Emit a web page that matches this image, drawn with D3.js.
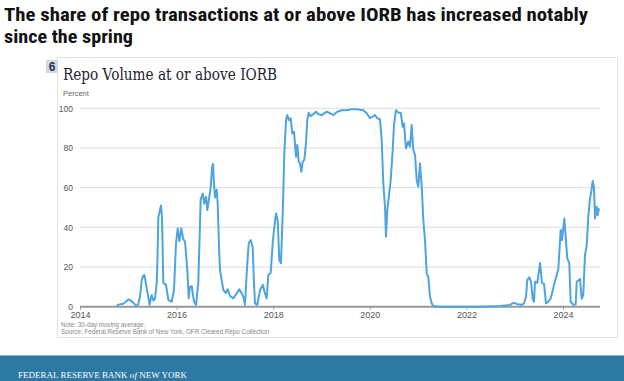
<!DOCTYPE html>
<html><head><meta charset="utf-8">
<script src="https://cdn.jsdelivr.net/npm/d3@7"></script>
<style>
html,body{margin:0;padding:0;background:#fff;}
svg{display:block;}
</style></head>
<body>
<svg id="chart" width="624" height="381"></svg>
<script>
// ---- data ----
const pageTitle = ["The share of repo transactions at or above IORB has increased notably", "since the spring"];
const chartTitle = "Repo Volume at or above IORB";
const chartNumber = "6";
const yUnit = "Percent";
const noteText = "Note: 30-day moving average.";
const sourceText = "Source: Federal Reserve Bank of New York, OFR Cleared Repo Collection";
const xTicks = [2014, 2016, 2018, 2020, 2022, 2024];
const yTicks = [0, 20, 40, 60, 80, 100];
const years = [2014.760,2014.787,2014.896,2014.952,2015.000,2015.056,2015.104,2015.159,2015.201,2015.242,2015.277,2015.304,2015.331,2015.356,2015.381,2015.414,2015.439,2015.484,2015.522,2015.553,2015.588,2015.605,2015.621,2015.656,2015.677,2015.698,2015.725,2015.781,2015.828,2015.899,2015.946,2015.988,2016.023,2016.056,2016.097,2016.139,2016.174,2016.222,2016.251,2016.277,2016.313,2016.360,2016.402,2016.449,2016.499,2016.540,2016.573,2016.609,2016.636,2016.677,2016.706,2016.733,2016.754,2016.774,2016.795,2016.830,2016.851,2016.878,2016.899,2016.967,2017.023,2017.058,2017.106,2017.174,2017.244,2017.298,2017.348,2017.381,2017.416,2017.451,2017.493,2017.534,2017.576,2017.602,2017.623,2017.671,2017.727,2017.783,2017.830,2017.865,2017.899,2017.948,2017.990,2018.017,2018.058,2018.093,2018.126,2018.161,2018.197,2018.230,2018.265,2018.292,2018.327,2018.362,2018.395,2018.431,2018.472,2018.499,2018.528,2018.555,2018.582,2018.611,2018.644,2018.679,2018.706,2018.735,2018.776,2018.830,2018.886,2018.934,2019.004,2019.108,2019.176,2019.244,2019.327,2019.418,2019.522,2019.625,2019.729,2019.865,2019.936,2020.004,2020.060,2020.108,2020.155,2020.211,2020.246,2020.280,2020.315,2020.335,2020.362,2020.391,2020.433,2020.474,2020.501,2020.542,2020.590,2020.640,2020.681,2020.708,2020.749,2020.797,2020.832,2020.867,2020.901,2020.936,2020.971,2021.004,2021.039,2021.075,2021.108,2021.143,2021.178,2021.211,2021.246,2021.282,2021.315,2021.453,2021.867,2022.282,2022.696,2022.903,2022.971,2023.041,2023.145,2023.193,2023.234,2023.261,2023.302,2023.337,2023.373,2023.400,2023.420,2023.468,2023.524,2023.565,2023.607,2023.648,2023.696,2023.745,2023.787,2023.814,2023.870,2023.903,2023.952,2023.979,2024.027,2024.062,2024.089,2024.130,2024.159,2024.213,2024.263,2024.284,2024.352,2024.387,2024.420,2024.455,2024.491,2024.524,2024.559,2024.586,2024.615,2024.642,2024.663,2024.698,2024.718,2024.745];
const share = [0,1,1.5,2.5,3.7,3,2,0.4,1,5,13,15.5,16,13,9,5,1,5.9,3,4.2,12,25,45,48.7,51,45,12,11,3.4,2.5,8.4,32,39.5,33,39.5,34,32.8,18.5,4.2,10,10.4,2.5,0.9,12,54,57,52,55.4,48.7,55.4,60,70,72,62,55,59,52,30,18.5,8.4,6.9,8.8,5.4,4.2,6.7,8.8,6.7,5,0.9,16.8,32,33.6,30,12,1.7,0.9,8.4,11,6.7,4.2,16,17,32,38.7,47,43.7,23.5,21.9,47,77,94,96.6,94,95,87.4,88.2,75.6,81.5,73,72.3,68,73,74,82.4,94,97.8,96,97,98.3,97,96.6,98.3,97.5,96.6,98.3,99,99,99.5,99.5,99,97.5,95,95.8,96.6,95,94.5,84,62,50.4,35.3,48.7,54.6,63.9,79,91.6,99,97.8,97.8,90.7,92.4,79.8,83.2,80.6,91.6,79,76.5,63.9,60.5,72.3,60.5,43.7,33.6,16.8,15.1,5,1.7,0.3,0,0,0,0.3,0.9,2,1.4,0.9,1.7,5,13.5,14.8,12.6,4,2.5,12.6,12,22,12,11.5,1.7,2.5,4.2,8,11,16,19,38.7,33.6,44.5,33,24.4,22,2.5,1,1.2,12.6,14,4,5.9,26,31,45.4,54.6,58,63.4,59.7,44.5,50.4,46.2,49.6];

// ---- drawing ----
const svg = d3.select("#chart");
const plot = {left: 80, right: 600, top: 108.3, bottom: 306.7};
const x = d3.scaleLinear().domain([2014, 2024.766]).range([plot.left, plot.right]);
const y = d3.scaleLinear().domain([0, 100]).range([plot.bottom, plot.top]);

// page title
const titleFont = "'Roboto Condensed','Liberation Sans Narrow','DejaVu Sans Condensed',Roboto,sans-serif";
svg.append("text").attr("x", 4).attr("y", 21)
  .attr("font-family", titleFont).attr("font-weight", "bold").attr("font-size", 18).attr("fill", "#111")
  .attr("textLength", 584).attr("lengthAdjust", "spacingAndGlyphs").text(pageTitle[0]);
svg.append("text").attr("x", 4).attr("y", 42.5)
  .attr("font-family", titleFont).attr("font-weight", "bold").attr("font-size", 18).attr("fill", "#111")
  .attr("textLength", 129).attr("lengthAdjust", "spacingAndGlyphs").text(pageTitle[1]);

// panel
svg.append("rect").attr("x", 57.5).attr("y", 57.5).attr("width", 560).attr("height", 280)
  .attr("fill", "#fff").attr("stroke", "#e4e4e4");
svg.append("rect").attr("x", 46).attr("y", 60).attr("width", 12).attr("height", 13).attr("fill", "#d4d7db");
svg.append("text").attr("x", 52).attr("y", 71).attr("text-anchor", "middle")
  .attr("font-family", "Arial,'Liberation Sans',sans-serif").attr("font-weight", "bold")
  .attr("font-size", 12).attr("fill", "#1b3557").text(chartNumber);

svg.append("text").attr("x", 63).attr("y", 80)
  .attr("font-family", "Georgia,'DejaVu Serif','Liberation Serif',serif").attr("font-size", 16)
  .attr("fill", "#1c2433").attr("textLength", 214).attr("lengthAdjust", "spacingAndGlyphs").text(chartTitle);
svg.append("text").attr("x", 63).attr("y", 96)
  .attr("font-family", "Arial,'Liberation Sans',sans-serif").attr("font-size", 7.5)
  .attr("fill", "#666").text(yUnit);

// gridlines
const g = svg.append("g");
g.selectAll("line.grid").data(yTicks.filter(d => d > 0)).join("line")
  .attr("x1", plot.left).attr("x2", plot.right)
  .attr("y1", d => y(d)).attr("y2", d => y(d))
  .attr("stroke", "#dcdcdc").attr("stroke-width", 1);

// y labels
const yAxis = d3.axisLeft(y).tickValues(yTicks).tickSize(0).tickPadding(7).tickFormat(d3.format("d"));
const ya = svg.append("g").attr("transform", `translate(${plot.left},0)`).call(yAxis);
ya.select(".domain").remove();
ya.selectAll("text").attr("font-family", "Arial,'Liberation Sans',sans-serif").attr("font-size", 8.5).attr("fill", "#555");

// x axis
const xAxis = d3.axisBottom(x).tickValues(xTicks).tickSize(3).tickPadding(2).tickFormat(d3.format("d"));
const xa = svg.append("g").attr("transform", `translate(0,${plot.bottom})`).call(xAxis);
xa.select(".domain").attr("stroke", "#999").attr("stroke-width", 2).attr("d", `M${plot.left},0H${plot.right}`);
xa.selectAll(".tick line").attr("stroke", "#999");
xa.selectAll("text").attr("font-family", "Arial,'Liberation Sans',sans-serif").attr("font-size", 9).attr("fill", "#555");

// line
const line = d3.line().x((d, i) => x(years[i])).y(d => y(d)).curve(d3.curveLinear);
svg.append("path").datum(share).attr("d", line)
  .attr("fill", "none").attr("stroke", "#4ea4e0").attr("stroke-width", 2).attr("stroke-linejoin", "round");

// notes
svg.append("text").attr("x", 61).attr("y", 326.5)
  .attr("font-family", "Arial,'Liberation Sans',sans-serif").attr("font-size", 6.3).attr("fill", "#888").text(noteText);
svg.append("text").attr("x", 61).attr("y", 333.5)
  .attr("font-family", "Arial,'Liberation Sans',sans-serif").attr("font-size", 6.3).attr("fill", "#888").text(sourceText);

// footer
svg.append("rect").attr("x", 0).attr("y", 355).attr("width", 624).attr("height", 26).attr("fill", "#2e78a4");
svg.append("rect").attr("x", 0).attr("y", 355).attr("width", 624).attr("height", 1).attr("fill", "#8fb3cc");
const ft = svg.append("text").attr("x", 18).attr("y", 378)
  .attr("font-family", "'Liberation Serif','DejaVu Serif',serif").attr("font-size", 8.5)
  .attr("fill", "#fff").attr("textLength", 169).attr("lengthAdjust", "spacingAndGlyphs");
ft.append("tspan").text("FEDERAL RESERVE BANK ");
ft.append("tspan").attr("font-style", "italic").text("of");
ft.append("tspan").text(" NEW YORK");
</script>
</body></html>
